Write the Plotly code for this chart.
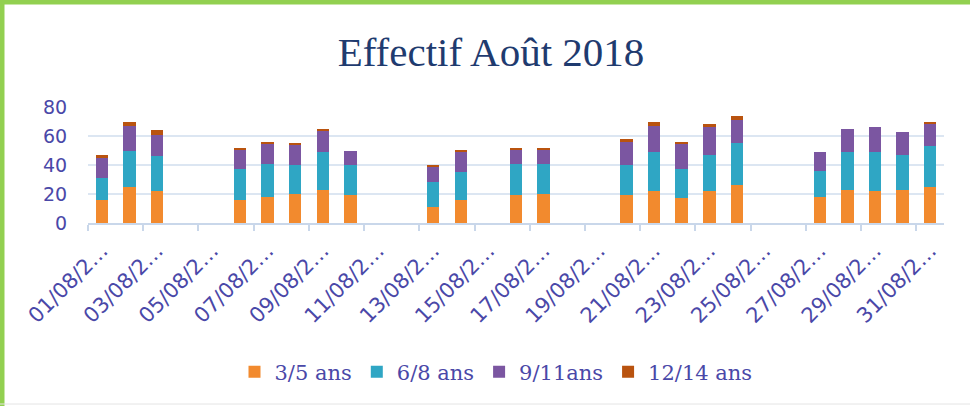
import plotly.graph_objects as go

# Daily attendance, August 2018, by age group
days = list(range(1, 32))
age_3_5 = [16, 25, 22, 0, 0, 16, 18, 20, 23, 19, 0, 0, 11, 16, 0, 19, 20, 0, 0, 19, 22, 17, 22, 26, 0, 0, 18, 23, 22, 23, 25]
age_6_8 = [15, 25, 24, 0, 0, 21, 23, 20, 26, 21, 0, 0, 17, 19, 0, 22, 21, 0, 0, 21, 27, 20, 25, 29, 0, 0, 18, 26, 27, 24, 28]
age_9_11 = [14, 17, 15, 0, 0, 14, 14, 14, 15, 10, 0, 0, 11, 14, 0, 10, 10, 0, 0, 16, 18, 18, 19, 16, 0, 0, 13, 16, 17, 16, 15]
age_12_14 = [2, 3, 3, 0, 0, 1, 1, 1, 1, 0, 0, 0, 1, 1, 0, 1, 1, 0, 0, 2, 3, 1, 2, 3, 0, 0, 0, 0, 0, 0, 2]

series_names = ["3/5 ans", "6/8 ans", "9/11ans", "12/14 ans"]
series_values = [age_3_5, age_6_8, age_9_11, age_12_14]
series_colors = ["#F28A2E", "#2FA6C4", "#7B56A1", "#B9530F"]

tick_days = list(range(1, 32, 2))
tick_labels = [f"{d:02d}/08/2\u2026" for d in tick_days]
y_ticks = [0, 20, 40, 60, 80]

W, H = 970, 406
L, R, T, B = 88, 26, 107, 183
text_color = "#4A48A8"

fig = go.Figure()
for name, vals, col in zip(series_names, series_values, series_colors):
    fig.add_trace(go.Bar(
        x=days, y=vals, name=name, width=0.45,
        marker=dict(color=col, line=dict(width=0)),
    ))

pw = W - L - R
ph = H - T - B


def px_x(p):
    return (p - L) / pw


def px_y(p):
    return (H - B - p) / ph


fig.update_layout(
    width=W, height=H,
    margin=dict(l=L, r=R, t=T, b=B),
    barmode="stack",
    bargap=0,
    paper_bgcolor="white",
    plot_bgcolor="white",
    title=dict(
        text="Effectif Août 2018",
        x=491 / W, xref="container", xanchor="center",
        y=1 - 52 / H, yref="container", yanchor="middle",
        font=dict(family="Liberation Serif", size=41, color="#1F3B6F"),
    ),
    xaxis=dict(
        range=[0.5, 31.5],
        tickmode="array", tickvals=tick_days, ticktext=tick_labels,
        tickangle=-45,
        tickfont=dict(family="DejaVu Sans", size=21, color=text_color),
        ticks="", showgrid=False, ticklabelstandoff=5,
        showline=True, linecolor="#C9D7EA", linewidth=2,
        zeroline=False,
        minor=dict(tickmode="array", tickvals=[0.5 + 2 * i for i in range(16)],
                   ticks="outside", ticklen=6, tickcolor="#C9D7EA", tickwidth=2,
                   showgrid=False),
    ),
    yaxis=dict(
        range=[0, 80],
        tickmode="array", tickvals=y_ticks,
        tickfont=dict(family="DejaVu Sans", size=19, color=text_color),
        showgrid=True, gridcolor="#DCE6F2", gridwidth=2,
        zeroline=False, showline=False,
        ticks="outside", ticklen=0, ticklabelstandoff=16,
    ),
    legend=dict(
        orientation="h",
        x=px_x(496), xanchor="center",
        y=px_y(372), yanchor="middle",
        font=dict(family="DejaVu Serif", size=21, color=text_color),
        itemwidth=30,
        traceorder="normal",
    ),
    showlegend=True,
)

# green frame along the top and left edges, grey line at the bottom
fig.add_shape(type="line", xref="paper", yref="paper",
              x0=px_x(0), x1=px_x(W), y0=px_y(2), y1=px_y(2),
              line=dict(color="#92D050", width=5), layer="above")
fig.add_shape(type="line", xref="paper", yref="paper",
              x0=px_x(2), x1=px_x(2), y0=px_y(0), y1=px_y(H),
              line=dict(color="#92D050", width=5), layer="above")
fig.add_shape(type="line", xref="paper", yref="paper",
              x0=px_x(0), x1=px_x(W), y0=px_y(404), y1=px_y(404),
              line=dict(color="#E4E4E4", width=1), layer="above")

fig.write_html("out.html")
